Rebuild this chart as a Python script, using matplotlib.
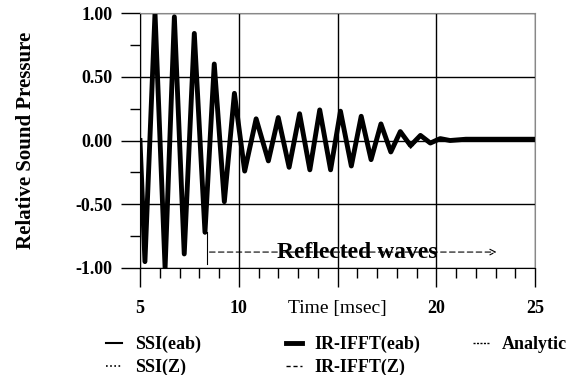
import matplotlib
matplotlib.use("Agg")
import matplotlib.pyplot as plt
from matplotlib.ticker import MultipleLocator

plt.rcParams['font.family'] = ['Liberation Serif', 'DejaVu Serif']

# time axis (msec) at the peaks / troughs
time_ms = [5.0, 5.25, 5.76, 6.27, 6.74, 7.24, 7.75, 8.29, 8.76, 9.27, 9.78,
           10.3, 10.88, 11.5, 12.0, 12.55, 13.08, 13.6, 14.1, 14.65, 15.15,
           15.7, 16.2, 16.7, 17.2, 17.7, 18.18, 18.7, 19.2, 19.7, 20.2,
           20.7, 21.5, 25.0]

ir_ifft_eab = [0.0, -0.95, 1.0, -1.0, 0.97, -0.89, 0.84, -0.72, 0.60, -0.48, 0.37,
               -0.24, 0.17, -0.16, 0.18, -0.21, 0.21, -0.23, 0.24, -0.23, 0.23,
               -0.20, 0.19, -0.15, 0.13, -0.09, 0.07, -0.04, 0.04, -0.02, 0.015,
               0.0, 0.01, 0.01]
ir_ifft_z = list(ir_ifft_eab)
ssi_eab = list(ir_ifft_eab)
ssi_z = list(ir_ifft_eab)
analytic = [0.0, -0.96, 1.0, -1.0, 0.98, -0.90, 0.85, -0.73, 0.61, -0.49, 0.38,
            -0.25, 0.16, -0.17, 0.19, -0.22, 0.22, -0.24, 0.24, -0.24, 0.22,
            -0.21, 0.18, -0.16, 0.12, -0.10, 0.06, -0.06, 0.03, -0.03, 0.01,
            0.0, 0.0, 0.0]

x_ticks = [5, 10, 15, 20, 25]
x_labels = ['5', '10', 'Time [msec]', '20', '25']
y_ticks = [-1.0, -0.5, 0.0, 0.5, 1.0]
y_labels = ['-1.00', '-0.50', '0.00', '0.50', '1.00']

fig = plt.figure(figsize=(5.72, 3.75), dpi=100)
ax = fig.add_axes([140 / 572, 1 - 268 / 375, 395 / 572, 255 / 375])

l1, = ax.plot(time_ms, ssi_eab, color='black', lw=1.5, label='SSI(eab)')
l2, = ax.plot(time_ms, ssi_z, color='black', lw=1.2, linestyle=(0, (1, 1.5)), label='SSI(Z)')
l3, = ax.plot(time_ms, ir_ifft_eab, color='black', lw=3.5, label='IR-IFFT(eab)')
l4, = ax.plot(time_ms, ir_ifft_z, color='black', lw=1.0, linestyle=(0, (3, 2)), label='IR-IFFT(Z)')
l5, = ax.plot(time_ms, analytic, color='black', lw=1.0, linestyle=(0, (1.5, 1)), label='Analytic')

ax.set_xlim(5, 25)
ax.set_ylim(-1, 1)
ax.set_xticks(x_ticks)
ax.set_xticklabels(x_labels)
ax.set_yticks(y_ticks)
ax.set_yticklabels(y_labels)
ax.xaxis.set_minor_locator(MultipleLocator(1))
ax.yaxis.set_minor_locator(MultipleLocator(0.25))
ax.tick_params(which='major', direction='out', length=14, width=1, pad=6,
               labelsize=13)
ax.tick_params(axis='x', which='major', pad=9)
ax.tick_params(which='minor', direction='out', length=7, width=1)
for lab in ax.get_xticklabels() + ax.get_yticklabels():
    lab.set_fontweight('bold')
ax.get_xticklabels()[2].set_fontweight('normal')
ax.get_xticklabels()[2].set_fontsize(14)

ax.grid(True, which='major', color='black', lw=1.0)
for side in ['top', 'right']:
    ax.spines[side].set_color('#888888')
    ax.spines[side].set_linewidth(0.8)

ax.set_ylabel('Relative Sound Pressure', fontsize=15, fontweight='bold', labelpad=28)

# reflected waves marker
ax.plot([8.38, 8.38], [-0.72, -0.97], color='black', lw=0.8)
ax.annotate('', xy=(23.2, -0.875), xytext=(8.38, -0.875),
            arrowprops=dict(arrowstyle='->', color='black', lw=0.8, linestyle=(0, (5, 3))))
ax.text(16.0, -0.875, 'Reflected waves', fontsize=17, fontweight='bold',
        ha='center', va='center')

# legend in three columns
leg_kw = dict(frameon=False, handlelength=0.9, handletextpad=0.7,
              labelspacing=0.3, borderpad=0, borderaxespad=0, loc='upper left',
              prop={'weight': 'bold', 'size': 13})
fig.legend(handles=[l1, l2], bbox_to_anchor=(106 / 572, 1 - 336 / 375), **leg_kw)
fig.legend(handles=[l3, l4], bbox_to_anchor=(286 / 572, 1 - 336 / 375), **leg_kw)
fig.legend(handles=[l5], bbox_to_anchor=(473 / 572, 1 - 336 / 375), **leg_kw)

fig.savefig('out.png', dpi=100)
